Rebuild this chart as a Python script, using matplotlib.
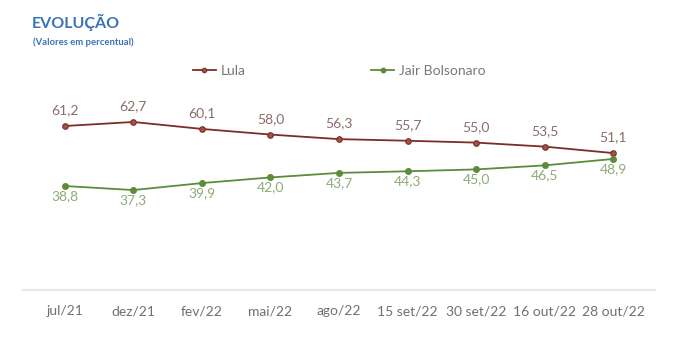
import matplotlib.pyplot as plt

# dados
periodos = ["jul/21", "dez/21", "fev/22", "mai/22", "ago/22",
            "15 set/22", "30 set/22", "16 out/22", "28 out/22"]
lula = [61.2, 62.7, 60.1, 58.0, 56.3, 55.7, 55.0, 53.5, 51.1]
bolsonaro = [38.8, 37.3, 39.9, 42.0, 43.7, 44.3, 45.0, 46.5, 48.9]

cor_lula = "#7b2d26"
cor_bolso = "#5b8c3a"
cor_txt_lula = "#8a6d6b"
cor_txt_bolso = "#8eab78"

plt.rcParams['font.family'] = ['Lato', 'DejaVu Sans']

fig = plt.figure(figsize=(6.8, 3.38), dpi=100)
ax = fig.add_axes([23/680, 0.142, (655-23)/680, 0.555])

x = list(range(len(periodos)))
ax.plot(x, lula, color=cor_lula, lw=1.3, marker="o", ms=4,
        mfc="#a0524a", mec=cor_lula, mew=0.8, label="Lula")
ax.plot(x, bolsonaro, color=cor_bolso, lw=1.3, marker="o", ms=4,
        mfc=cor_bolso, mec=cor_bolso, label="Jair Bolsonaro")

for i, v in enumerate(lula):
    ax.annotate(f"{v:.1f}".replace(".", ","), (i, v), xytext=(0, 7),
                textcoords="offset points", ha="center", va="bottom",
                fontsize=10, color=cor_txt_lula)
for i, v in enumerate(bolsonaro):
    ax.annotate(f"{v:.1f}".replace(".", ","), (i, v), xytext=(0, -3),
                textcoords="offset points", ha="center", va="top",
                fontsize=10, color=cor_txt_bolso)

ax.set_xlim(-0.61, 8.61)
ax.set_ylim(0, 70)
ax.set_xticks(x)
ax.set_xticklabels(periodos, fontsize=10, color="#707070")
ax.tick_params(axis="x", length=0, pad=11)
ax.set_yticks([])
for s in ["top", "right", "left"]:
    ax.spines[s].set_visible(False)
ax.spines["bottom"].set_color("#e8e8e8")
ax.spines["bottom"].set_linewidth(1.5)

leg = fig.legend(loc="center left", bbox_to_anchor=(180/680, 1 - 71/338),
                 ncol=2, frameon=False, fontsize=10, handlelength=1.7,
                 handletextpad=0.35, columnspacing=9.0, markerscale=0.8)
for t in leg.get_texts():
    t.set_color("#777777")

fig.text(32/680, 1 - 22/338, "EVOLUÇÃO", fontsize=11.5, fontweight="bold",
         color="#3a72b8", va="center", ha="left")
fig.text(33/680, 1 - 42/338, "(Valores em percentual)", fontsize=6.8,
         fontweight="bold", color="#3a72b8", va="center", ha="left")

fig.savefig("out.png", dpi=100, facecolor="white")
